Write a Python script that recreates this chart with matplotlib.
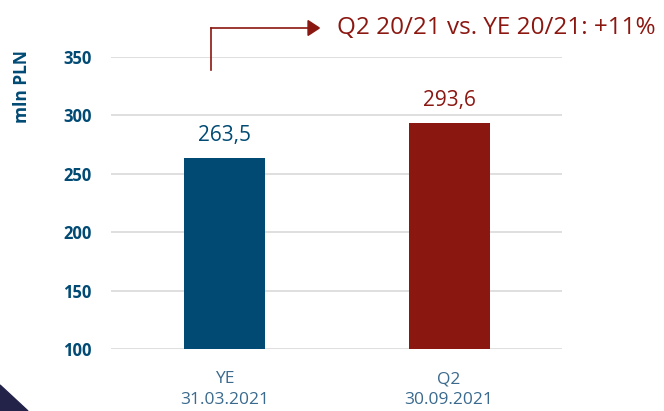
import matplotlib.pyplot as plt
from matplotlib.patches import Polygon

categories = ['YE\n31.03.2021', 'Q2\n30.09.2021']
values = [263.5, 293.6]
value_labels = ['263,5', '293,6']
yticks = [100, 150, 200, 250, 300, 350]
note = 'Q2 20/21 vs. YE 20/21: +11%'

blue = '#004A74'
red = '#8B1711'
tick_blue = '#3A6A8E'

plt.rcParams['font.family'] = ['Open Sans', 'DejaVu Sans']

fig = plt.figure(figsize=(6.64, 4.11), dpi=100)
ax = fig.add_axes([0.1672, 0.1509, 0.6792, 0.7104])

xs = [0, 1]
bars = ax.bar(xs, values, width=0.36, color=[blue, red], zorder=3, bottom=0)
ax.set_ylim(100, 350)
ax.set_xlim(-0.506, 1.503)
ax.set_yticks(yticks)
ax.set_yticklabels([str(t) for t in yticks], fontsize=12, fontweight='bold', color=blue)
ax.set_xticks(xs)
ax.set_xticklabels(categories, fontsize=12.5, color=tick_blue, linespacing=1.4)
ax.tick_params(length=0, pad=14)
ax.tick_params(axis='x', pad=16)
ax.grid(axis='y', color='#D9D9D9', linewidth=1.2, zorder=0)
for s in ax.spines.values():
    s.set_visible(False)

for x, v, lab, c in zip(xs, values, value_labels, [blue, red]):
    ax.text(x, v + 10, lab, ha='center', va='bottom', fontsize=15, color=c)

fig.text(22 / 664, 1 - 87 / 411, 'mln PLN', rotation=90, ha='center', va='center',
         fontsize=12.5, fontweight='bold', color=blue)

# arrow annotation above the plot
x0, y0 = 211 / 664, 1 - 70 / 411
y1 = 1 - 28 / 411
x1 = 318 / 664
fig.add_artist(plt.Line2D([x0, x0], [y0, y1], color=red, linewidth=1.2,
                          transform=fig.transFigure))
fig.add_artist(plt.Line2D([x0, x1 - 0.01], [y1, y1], color=red, linewidth=1.2,
                          transform=fig.transFigure))
fig.add_artist(Polygon([[x1 - 0.015, y1 + 0.018], [x1 - 0.015, y1 - 0.018], [x1 + 0.002, y1]],
                       closed=True, color=red, transform=fig.transFigure))
fig.text(337 / 664, y1, note, ha='left', va='center', fontsize=17.5, color=red)

# decorative corner
fig.add_artist(Polygon([[0, 1 - 385 / 411], [28 / 664, 0], [0, 0]], closed=True,
                       color='#23234A', transform=fig.transFigure))

fig.savefig('out.png', dpi=100)
